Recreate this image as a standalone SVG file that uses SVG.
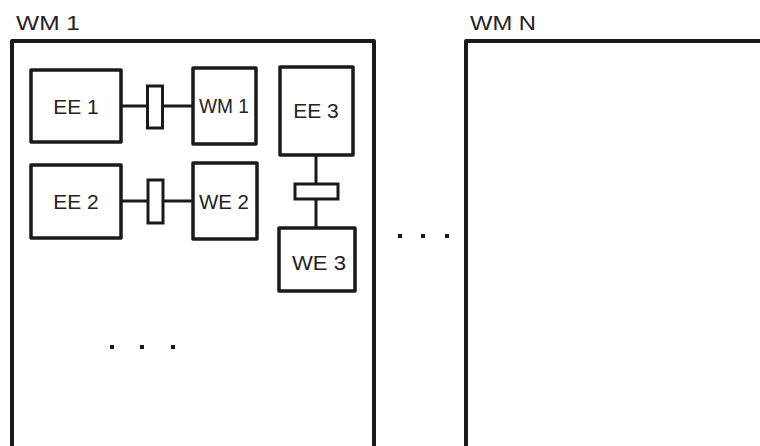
<svg xmlns="http://www.w3.org/2000/svg" width="760" height="446" viewBox="0 0 760 446">
<style>
.frame{fill:none;stroke:#1a1a1a;stroke-width:4;stroke-linejoin:round}
.box{fill:#fff;stroke:#1a1a1a;stroke-width:3.5;stroke-linejoin:round}
.plug{fill:#fff;stroke:#1a1a1a;stroke-width:3}
.wire{stroke:#1a1a1a;stroke-width:3;fill:none}
.dot{fill:#1a1a1a}
text{font-family:"Liberation Sans",Arial,sans-serif;fill:#222}
.title{font-size:21px}
.lbl{font-size:21px;text-anchor:middle}
</style>
<rect width="760" height="446" fill="#fff"/>
<g id="wm1">
<path class="frame" d="M12 450 V41 H374 V450"/>
<text class="title" x="16" y="30" textLength="64" lengthAdjust="spacingAndGlyphs">WM 1</text>
</g>
<g id="wmn">
<path class="frame" d="M466 450 V41 H770"/>
<text class="title" x="470" y="30" textLength="66" lengthAdjust="spacingAndGlyphs">WM N</text>
</g>
<g id="connectors">
<line class="wire" x1="121" y1="106" x2="192" y2="106"/>
<line class="wire" x1="121" y1="201" x2="192" y2="201"/>
<line class="wire" x1="316" y1="155" x2="316" y2="228"/>
<rect class="plug" x="147.5" y="86" width="15" height="42"/>
<rect class="plug" x="148" y="180" width="15" height="43"/>
<rect class="plug" x="295" y="184" width="43" height="15"/>
</g>
<g id="ee1">
<rect class="box" x="31" y="70" width="90" height="72"/>
<text class="lbl" x="76" y="114">EE 1</text>
</g>
<g id="wm1box">
<rect class="box" x="193" y="68" width="63" height="76"/>
<text x="199" y="113" font-size="21" textLength="50" lengthAdjust="spacingAndGlyphs">WM 1</text>
</g>
<g id="ee3">
<rect class="box" x="280" y="67" width="73" height="88"/>
<text class="lbl" x="316" y="118">EE 3</text>
</g>
<g id="ee2">
<rect class="box" x="31" y="165" width="90" height="73"/>
<text class="lbl" x="76" y="209">EE 2</text>
</g>
<g id="we2">
<rect class="box" x="193" y="163" width="64" height="76"/>
<text x="199" y="209" font-size="21" textLength="50" lengthAdjust="spacingAndGlyphs">WE 2</text>
</g>
<g id="we3">
<rect class="box" x="279" y="228" width="76" height="63"/>
<text x="292" y="270" font-size="21" textLength="54" lengthAdjust="spacingAndGlyphs">WE 3</text>
</g>
<g id="dots">
<rect class="dot" x="110" y="345" width="4" height="4"/>
<rect class="dot" x="140" y="345" width="4" height="4"/>
<rect class="dot" x="171" y="345" width="4" height="4"/>
<rect class="dot" x="398" y="234" width="4" height="4"/>
<rect class="dot" x="421" y="234" width="4" height="4"/>
<rect class="dot" x="445" y="234" width="4" height="4"/>
</g>
</svg>
